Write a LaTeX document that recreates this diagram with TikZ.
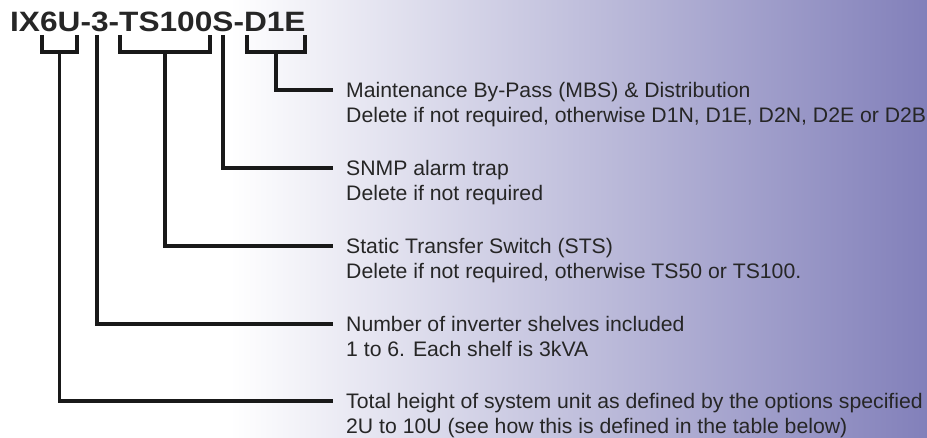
\documentclass[tikz,border=0pt]{standalone}
\usepackage{fontspec}
\setmainfont{Liberation Sans}
\newfontfamily\codefont[FakeStretch=1.13]{Liberation Sans}
\newfontfamily\notefont[FakeStretch=1.01]{Liberation Sans}
\usetikzlibrary{positioning}
\definecolor{bgpurple}{RGB}{130,128,186}
\definecolor{bgmid}{RGB}{205,203,230}
\definecolor{inkgray}{RGB}{38,38,38}
\definecolor{leadgray}{RGB}{25,25,25}
\tikzset{
    code/.style = {anchor=base west, inner sep=0pt,
        font=\codefont\bfseries\fontsize{28}{28}\selectfont, text=inkgray},
    note/.style = {anchor=west, inner sep=0pt, text height=15pt, text depth=0pt,
        font=\notefont\fontsize{21}{25}\selectfont, text=inkgray},
    subnote/.style = {anchor=base west, inner sep=0pt,
        font=\notefont\fontsize{21}{25}\selectfont, text=inkgray},
    lead/.style = {draw=leadgray, line width=3.2pt}
}

\begin{document}
\begin{tikzpicture}[x=1pt,y=-1pt]
    \useasboundingbox (0,0) rectangle (927,438);
    \shade[left color=white, middle color=bgmid, right color=bgpurple] (230,0) rectangle (927,438);

    \node[code] (code) at (10,32) {IX6U-3-TS100S-D1E};

    \node[note] (mbs) at (346,90) {Maintenance By-Pass (MBS) \& Distribution};
    \node[subnote] (mbs2) at ([yshift=-25pt]mbs.base west) {Delete if not required, otherwise D1N, D1E, D2N, D2E or D2B};
    \node[note] (snmp) at (346,168) {SNMP alarm trap};
    \node[subnote] (snmp2) at ([yshift=-25pt]snmp.base west) {Delete if not required};
    \node[note] (sts) at (346,246) {Static Transfer Switch (STS)};
    \node[subnote] (sts2) at ([yshift=-25pt]sts.base west) {Delete if not required, otherwise TS50 or TS100.};
    \node[note] (inv) at (346,324) {Number of inverter shelves included};
    \node[subnote] (inv2) at ([yshift=-25pt]inv.base west) {1 to 6. Each shelf is 3kVA};
    \node[note] (total) at (346,401) {Total height of system unit as defined by the options specified};
    \node[subnote] (total2) at ([yshift=-25pt]total.base west) {2U to 10U (see how this is defined in the table below)};

    \coordinate (height) at (59.5,52);
    \coordinate (shelves) at (97,35);
    \coordinate (switch) at (165,52);
    \coordinate (alarm) at (223,35);
    \coordinate (bypass) at (276,52);

    \draw[lead] (42,35) |- (77,52) -- (77,35);
    \draw[lead] (120,35) |- (210,52) -- (210,35);
    \draw[lead] (247,35) |- (305,52) -- (305,35);

    \draw[lead] (bypass) |- ([xshift=-13pt]mbs.west);
    \draw[lead] (alarm) |- ([xshift=-13pt]snmp.west);
    \draw[lead] (switch) |- ([xshift=-13pt]sts.west);
    \draw[lead] (shelves) |- ([xshift=-13pt]inv.west);
    \draw[lead] (height) |- ([xshift=-13pt]total.west);
\end{tikzpicture}
\end{document}
